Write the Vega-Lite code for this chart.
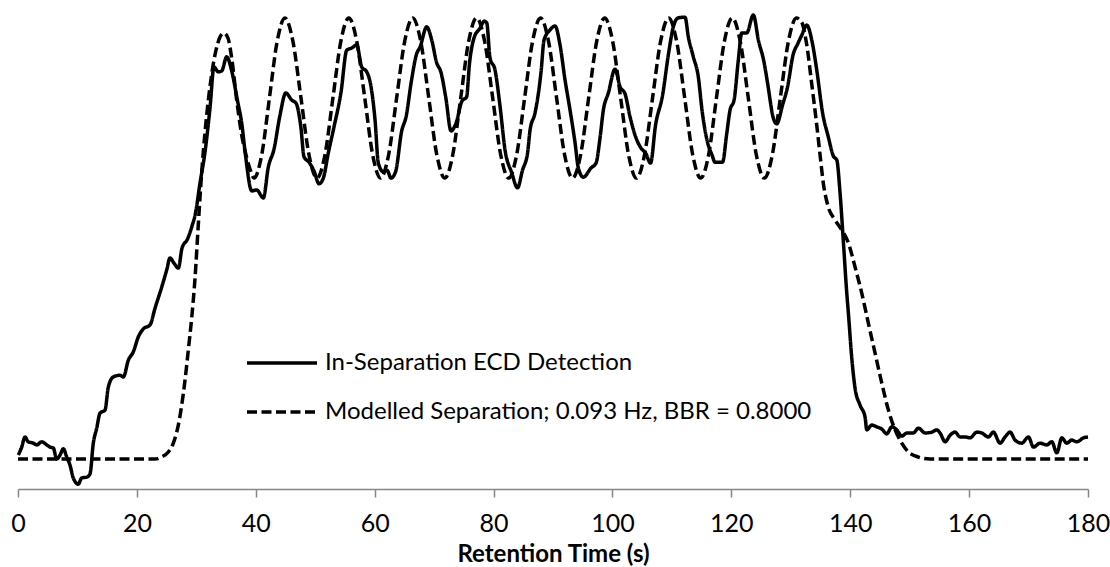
{
  "$schema": "https://vega.github.io/schema/vega-lite/v6.json",
  "width": 1070,
  "height": 482,
  "autosize": {"type": "none"},
  "padding": {"left": 18, "top": 7, "right": 22, "bottom": 78},
  "background": "white",
  "config": {
    "font": "Lato",
    "view": {"stroke": null},
    "axis": {"grid": false}
  },
  "datasets": {
    "detected": [
      {"t": 0.05, "v": 0.009}, {"t": 0.62, "v": 0.027}, {"t": 1.18, "v": 0.05}, {"t": 1.73, "v": 0.039},
      {"t": 2.57, "v": 0.036}, {"t": 3.15, "v": 0.032}, {"t": 3.99, "v": 0.039}, {"t": 4.83, "v": 0.032},
      {"t": 5.38, "v": 0.027}, {"t": 5.94, "v": 0.025}, {"t": 6.51, "v": 0.0}, {"t": 7.07, "v": 0.009},
      {"t": 7.62, "v": 0.023}, {"t": 8.19, "v": 0.005}, {"t": 8.75, "v": -0.014}, {"t": 9.3, "v": -0.043},
      {"t": 10.14, "v": -0.057}, {"t": 10.72, "v": -0.043}, {"t": 11.56, "v": -0.041}, {"t": 12.11, "v": -0.034},
      {"t": 12.67, "v": 0.036}, {"t": 13.24, "v": 0.07}, {"t": 13.8, "v": 0.104}, {"t": 14.64, "v": 0.111},
      {"t": 15.19, "v": 0.163}, {"t": 16.03, "v": 0.186}, {"t": 17.16, "v": 0.19}, {"t": 17.72, "v": 0.186},
      {"t": 18.56, "v": 0.224}, {"t": 19.4, "v": 0.243}, {"t": 20.24, "v": 0.277}, {"t": 21.08, "v": 0.295},
      {"t": 22.21, "v": 0.304}, {"t": 23.05, "v": 0.342}, {"t": 24.18, "v": 0.39}, {"t": 25.02, "v": 0.429},
      {"t": 25.57, "v": 0.456}, {"t": 26.24, "v": 0.444}, {"t": 26.97, "v": 0.433}, {"t": 27.59, "v": 0.478},
      {"t": 28.52, "v": 0.499}, {"t": 29.22, "v": 0.526}, {"t": 29.86, "v": 0.558}, {"t": 30.62, "v": 0.626},
      {"t": 31.46, "v": 0.696}, {"t": 32.3, "v": 0.796}, {"t": 32.97, "v": 0.889}, {"t": 33.7, "v": 0.878},
      {"t": 34.27, "v": 0.88}, {"t": 35.11, "v": 0.912}, {"t": 35.95, "v": 0.88}, {"t": 36.93, "v": 0.812},
      {"t": 37.63, "v": 0.762}, {"t": 38.27, "v": 0.689}, {"t": 39.32, "v": 0.608}, {"t": 40.16, "v": 0.61},
      {"t": 41.27, "v": 0.592}, {"t": 42.11, "v": 0.662}, {"t": 43.07, "v": 0.703}, {"t": 44.08, "v": 0.78},
      {"t": 45.05, "v": 0.83}, {"t": 46.05, "v": 0.814}, {"t": 46.77, "v": 0.807}, {"t": 47.58, "v": 0.753},
      {"t": 48.12, "v": 0.685}, {"t": 48.96, "v": 0.673}, {"t": 49.8, "v": 0.653}, {"t": 50.64, "v": 0.624},
      {"t": 51.36, "v": 0.637}, {"t": 52.2, "v": 0.694}, {"t": 53.16, "v": 0.753}, {"t": 54.34, "v": 0.832},
      {"t": 55.3, "v": 0.927}, {"t": 56.14, "v": 0.932}, {"t": 56.98, "v": 0.939}, {"t": 57.82, "v": 0.889},
      {"t": 58.66, "v": 0.878}, {"t": 59.39, "v": 0.844}, {"t": 60.06, "v": 0.769}, {"t": 60.62, "v": 0.671},
      {"t": 61.46, "v": 0.651}, {"t": 62.08, "v": 0.655}, {"t": 62.75, "v": 0.637}, {"t": 63.51, "v": 0.651},
      {"t": 64.55, "v": 0.744}, {"t": 65.28, "v": 0.776}, {"t": 66.2, "v": 0.859}, {"t": 67.04, "v": 0.918},
      {"t": 67.63, "v": 0.934}, {"t": 68.76, "v": 0.98}, {"t": 69.6, "v": 0.95}, {"t": 70.44, "v": 0.898},
      {"t": 71.13, "v": 0.878}, {"t": 71.97, "v": 0.819}, {"t": 72.85, "v": 0.744}, {"t": 73.69, "v": 0.762},
      {"t": 74.7, "v": 0.812}, {"t": 75.46, "v": 0.821}, {"t": 75.96, "v": 0.898}, {"t": 76.72, "v": 0.955},
      {"t": 77.72, "v": 0.977}, {"t": 78.43, "v": 0.993}, {"t": 78.85, "v": 0.989}, {"t": 79.41, "v": 0.909},
      {"t": 80.25, "v": 0.882}, {"t": 81.09, "v": 0.8}, {"t": 81.93, "v": 0.701}, {"t": 83.06, "v": 0.649},
      {"t": 84.03, "v": 0.615}, {"t": 84.87, "v": 0.655}, {"t": 85.72, "v": 0.694}, {"t": 86.14, "v": 0.746},
      {"t": 86.98, "v": 0.785}, {"t": 87.99, "v": 0.878}, {"t": 88.49, "v": 0.95}, {"t": 89.5, "v": 0.973},
      {"t": 90.34, "v": 0.982}, {"t": 91.18, "v": 0.939}, {"t": 92.03, "v": 0.859}, {"t": 92.87, "v": 0.791},
      {"t": 93.71, "v": 0.717}, {"t": 94.26, "v": 0.66}, {"t": 95.1, "v": 0.639}, {"t": 96.4, "v": 0.66},
      {"t": 97.24, "v": 0.671}, {"t": 97.91, "v": 0.728}, {"t": 98.47, "v": 0.791}, {"t": 99.31, "v": 0.83},
      {"t": 100.44, "v": 0.884}, {"t": 101.28, "v": 0.844}, {"t": 102.12, "v": 0.828}, {"t": 102.96, "v": 0.776},
      {"t": 103.97, "v": 0.728}, {"t": 104.81, "v": 0.705}, {"t": 105.57, "v": 0.694}, {"t": 106.41, "v": 0.671},
      {"t": 107.25, "v": 0.757}, {"t": 108.43, "v": 0.825}, {"t": 109.4, "v": 0.916}, {"t": 110.24, "v": 0.98},
      {"t": 111.04, "v": 1.0}, {"t": 112.21, "v": 1.002}, {"t": 112.77, "v": 0.957}, {"t": 113.61, "v": 0.912},
      {"t": 114.45, "v": 0.866}, {"t": 115.07, "v": 0.791}, {"t": 115.91, "v": 0.723}, {"t": 116.76, "v": 0.689},
      {"t": 117.26, "v": 0.673}, {"t": 118.52, "v": 0.673}, {"t": 119.2, "v": 0.735}, {"t": 119.78, "v": 0.791},
      {"t": 120.46, "v": 0.814}, {"t": 121.18, "v": 0.905}, {"t": 121.75, "v": 0.966}, {"t": 122.59, "v": 0.966},
      {"t": 123.7, "v": 1.007}, {"t": 124.55, "v": 0.95}, {"t": 125.5, "v": 0.9}, {"t": 126.09, "v": 0.853},
      {"t": 127.07, "v": 0.773}, {"t": 127.64, "v": 0.76}, {"t": 128.62, "v": 0.803}, {"t": 129.46, "v": 0.844},
      {"t": 130.38, "v": 0.916}, {"t": 131.22, "v": 0.943}, {"t": 131.84, "v": 0.961}, {"t": 132.69, "v": 0.984},
      {"t": 133.53, "v": 0.95}, {"t": 134.37, "v": 0.882}, {"t": 135.35, "v": 0.785}, {"t": 136.32, "v": 0.73},
      {"t": 137.16, "v": 0.687}, {"t": 137.74, "v": 0.678}, {"t": 138.29, "v": 0.603}, {"t": 138.85, "v": 0.492},
      {"t": 139.42, "v": 0.376}, {"t": 139.69, "v": 0.331}, {"t": 140.26, "v": 0.229}, {"t": 140.81, "v": 0.161},
      {"t": 141.66, "v": 0.122}, {"t": 142.5, "v": 0.095}, {"t": 142.78, "v": 0.066}, {"t": 143.62, "v": 0.077},
      {"t": 144.46, "v": 0.073}, {"t": 145.31, "v": 0.068}, {"t": 146.15, "v": 0.057}, {"t": 146.99, "v": 0.073},
      {"t": 147.83, "v": 0.066}, {"t": 148.67, "v": 0.052}, {"t": 149.51, "v": 0.059}, {"t": 150.62, "v": 0.059},
      {"t": 151.46, "v": 0.07}, {"t": 152.59, "v": 0.059}, {"t": 153.72, "v": 0.061}, {"t": 154.55, "v": 0.066},
      {"t": 155.11, "v": 0.059}, {"t": 155.96, "v": 0.039}, {"t": 156.8, "v": 0.054}, {"t": 157.64, "v": 0.061},
      {"t": 158.47, "v": 0.05}, {"t": 159.32, "v": 0.05}, {"t": 160.16, "v": 0.048}, {"t": 161.29, "v": 0.061},
      {"t": 162.13, "v": 0.059}, {"t": 163.24, "v": 0.05}, {"t": 164.08, "v": 0.061}, {"t": 165.21, "v": 0.036},
      {"t": 166.05, "v": 0.05}, {"t": 166.9, "v": 0.061}, {"t": 167.73, "v": 0.043}, {"t": 168.86, "v": 0.036},
      {"t": 169.98, "v": 0.05}, {"t": 170.82, "v": 0.027}, {"t": 171.94, "v": 0.036}, {"t": 173.07, "v": 0.032},
      {"t": 173.91, "v": 0.039}, {"t": 174.75, "v": 0.014}, {"t": 175.59, "v": 0.048}, {"t": 176.43, "v": 0.036},
      {"t": 177.27, "v": 0.043}, {"t": 178.12, "v": 0.039}, {"t": 179.24, "v": 0.048}, {"t": 180.0, "v": 0.05}
    ],
    "modelled": [
      {"t": 0, "v": 0}, {"t": 23.05, "v": 0}, {"t": 24.18, "v": 0.005}, {"t": 25.29, "v": 0.016},
      {"t": 26.13, "v": 0.036}, {"t": 26.97, "v": 0.077}, {"t": 27.54, "v": 0.122}, {"t": 28.1, "v": 0.179},
      {"t": 28.65, "v": 0.247}, {"t": 29.22, "v": 0.32}, {"t": 29.78, "v": 0.41}, {"t": 30.33, "v": 0.531},
      {"t": 30.91, "v": 0.651}, {"t": 31.46, "v": 0.741}, {"t": 32.02, "v": 0.814}, {"t": 32.64, "v": 0.878},
      {"t": 33.31, "v": 0.927}, {"t": 33.98, "v": 0.957}, {"t": 34.6, "v": 0.966}, {"t": 35.31, "v": 0.955},
      {"t": 35.95, "v": 0.909}, {"t": 36.79, "v": 0.814}, {"t": 37.63, "v": 0.735}, {"t": 38.48, "v": 0.683},
      {"t": 39.2, "v": 0.651}, {"t": 39.7, "v": 0.637},
      {"t": 41.0, "v": 0.69}, {"t": 42.3, "v": 0.819}, {"t": 43.6, "v": 0.947}, {"t": 44.9, "v": 1.0},
      {"t": 46.25, "v": 0.947}, {"t": 47.6, "v": 0.819}, {"t": 48.95, "v": 0.69}, {"t": 50.3, "v": 0.637},
      {"t": 51.64, "v": 0.69}, {"t": 52.98, "v": 0.819}, {"t": 54.31, "v": 0.947}, {"t": 55.65, "v": 1.0},
      {"t": 56.99, "v": 0.947}, {"t": 58.33, "v": 0.819}, {"t": 59.66, "v": 0.69}, {"t": 61.0, "v": 0.637},
      {"t": 62.35, "v": 0.69}, {"t": 63.7, "v": 0.819}, {"t": 65.05, "v": 0.947}, {"t": 66.4, "v": 1.0},
      {"t": 67.75, "v": 0.947}, {"t": 69.1, "v": 0.819}, {"t": 70.45, "v": 0.69}, {"t": 71.8, "v": 0.637},
      {"t": 73.14, "v": 0.69}, {"t": 74.48, "v": 0.819}, {"t": 75.81, "v": 0.947}, {"t": 77.15, "v": 1.0},
      {"t": 78.5, "v": 0.947}, {"t": 79.85, "v": 0.819}, {"t": 81.2, "v": 0.69}, {"t": 82.55, "v": 0.637},
      {"t": 83.89, "v": 0.69}, {"t": 85.23, "v": 0.819}, {"t": 86.56, "v": 0.947}, {"t": 87.9, "v": 1.0},
      {"t": 89.25, "v": 0.947}, {"t": 90.6, "v": 0.819}, {"t": 91.95, "v": 0.69}, {"t": 93.3, "v": 0.637},
      {"t": 94.65, "v": 0.69}, {"t": 96.0, "v": 0.819}, {"t": 97.35, "v": 0.947}, {"t": 98.7, "v": 1.0},
      {"t": 100.04, "v": 0.947}, {"t": 101.38, "v": 0.819}, {"t": 102.71, "v": 0.69}, {"t": 104.05, "v": 0.637},
      {"t": 105.4, "v": 0.69}, {"t": 106.75, "v": 0.819}, {"t": 108.1, "v": 0.947}, {"t": 109.45, "v": 1.0},
      {"t": 110.8, "v": 0.947}, {"t": 112.15, "v": 0.819}, {"t": 113.5, "v": 0.69}, {"t": 114.85, "v": 0.637},
      {"t": 116.18, "v": 0.69}, {"t": 117.5, "v": 0.819}, {"t": 118.83, "v": 0.947}, {"t": 120.15, "v": 1.0},
      {"t": 121.5, "v": 0.947}, {"t": 122.85, "v": 0.819}, {"t": 124.2, "v": 0.69}, {"t": 125.55, "v": 0.637},
      {"t": 126.9, "v": 0.69}, {"t": 128.25, "v": 0.819}, {"t": 129.6, "v": 0.947}, {"t": 130.95, "v": 1.0},
      {"t": 131.84, "v": 0.99}, {"t": 132.69, "v": 0.939}, {"t": 133.53, "v": 0.85}, {"t": 134.37, "v": 0.757},
      {"t": 134.93, "v": 0.689}, {"t": 135.48, "v": 0.625}, {"t": 136.32, "v": 0.571}, {"t": 137.45, "v": 0.542},
      {"t": 138.58, "v": 0.519}, {"t": 139.69, "v": 0.49}, {"t": 140.82, "v": 0.435}, {"t": 141.94, "v": 0.376},
      {"t": 143.05, "v": 0.308}, {"t": 144.18, "v": 0.24}, {"t": 145.31, "v": 0.172}, {"t": 146.42, "v": 0.111},
      {"t": 147.55, "v": 0.066}, {"t": 148.67, "v": 0.036}, {"t": 149.78, "v": 0.016}, {"t": 150.91, "v": 0.007},
      {"t": 153.43, "v": 0}, {"t": 180, "v": 0}
    ]
  },
  "encoding": {
    "x": {
      "field": "t",
      "type": "quantitative",
      "scale": {"domain": [0, 180], "nice": false},
      "axis": {
        "values": [0, 20, 40, 60, 80, 100, 120, 140, 160, 180],
        "title": "Retention Time (s)",
        "titleFontSize": 24,
        "titleFontWeight": "bold",
        "titleColor": "#000000",
        "titleY": 72,
        "titleBaseline": "alphabetic",
        "labelFontSize": 25,
        "labelColor": "#000000",
        "labelPadding": 14,
        "labelFlush": false,
        "labelOverlap": false,
        "domainColor": "#868686",
        "domainWidth": 1.5,
        "tickColor": "#868686",
        "tickWidth": 1.5,
        "tickSize": 8
      }
    },
    "y": {
      "field": "v",
      "type": "quantitative",
      "scale": {"domain": [-0.068, 1.025], "nice": false, "zero": false},
      "axis": null
    }
  },
  "layer": [
    {
      "data": {"name": "detected"},
      "mark": {"type": "line", "color": "black", "strokeWidth": 3.5, "interpolate": "monotone", "strokeJoin": "round"},
      "encoding": {
        "strokeDash": {
          "datum": "In-Separation ECD Detection",
          "scale": {
            "domain": ["In-Separation ECD Detection", "Modelled Separation; 0.093 Hz, BBR = 0.8000"],
            "range": [[1, 0], [10, 4.5]]
          },
          "legend": {
            "title": null,
            "orient": "none",
            "legendX": 227,
            "legendY": 319,
            "padding": 0,
            "symbolType": "stroke",
            "symbolSize": 4900,
            "symbolStrokeWidth": 3.5,
            "symbolStrokeColor": "black",
            "labelFontSize": 24,
            "labelColor": "#000000",
            "labelOffset": 6,
            "labelLimit": 700,
            "rowPadding": -22
          }
        }
      }
    },
    {
      "data": {"name": "modelled"},
      "mark": {"type": "line", "color": "black", "strokeWidth": 3.5, "interpolate": "monotone"},
      "encoding": {
        "strokeDash": {"datum": "Modelled Separation; 0.093 Hz, BBR = 0.8000"}
      }
    }
  ]
}
